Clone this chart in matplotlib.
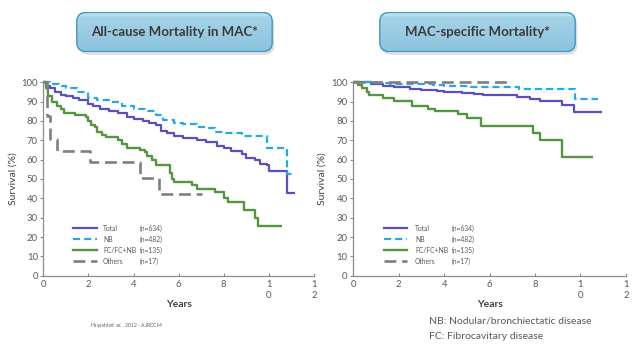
import numpy as np
import matplotlib.pyplot as plt
from matplotlib.patches import FancyBboxPatch
from matplotlib.lines import Line2D

plt.rcParams['font.family'] = ['Lato', 'DejaVu Sans']

# Kaplan-Meier change points (years, survival %)
all_total_t = [0, 0.15, 0.3, 0.5, 0.8, 1.0, 1.3, 1.6, 2.0, 2.2, 2.5, 2.9, 3.3, 3.7, 4.0, 4.4,
               4.7, 5.0, 5.2, 5.5, 5.8, 6.2, 6.8, 7.2, 7.7, 8.0, 8.3, 8.8, 9.0, 9.4, 9.6, 9.9,
               10.0, 10.8, 11.15]
all_total_s = [100, 98, 97, 95, 93.5, 93, 92, 91, 89, 88, 86, 85, 84, 82, 81, 80,
               79, 78, 75, 74, 72, 71, 70, 69, 67, 66, 64.5, 63, 61, 60, 58, 57,
               54, 43, 43]
all_nb_t = [0, 0.3, 0.7, 1.0, 1.5, 2.0, 2.4, 3.0, 3.5, 4.0, 4.5, 5.0, 5.3, 5.8, 6.2, 6.8,
            7.3, 7.6, 8.0, 8.8, 9.9, 10.8, 11.1]
all_nb_s = [100, 99, 98, 97, 95, 92, 91, 90, 88, 86, 85, 83, 80.5, 79, 78.5, 77,
            76.5, 74.5, 74, 72, 66, 52.5, 52.5]
all_fc_t = [0, 0.1, 0.2, 0.4, 0.6, 0.8, 0.9, 1.4, 1.9, 2.0, 2.1, 2.3, 2.4, 2.6, 2.8, 3.3,
            3.5, 3.7, 4.3, 4.5, 4.6, 4.8, 5.0, 5.6, 5.7, 5.8, 6.6, 6.8, 7.6, 8.0, 8.2, 8.9,
            9.4, 9.5, 10.6]
all_fc_s = [100, 97, 93, 90, 88, 86, 84, 83, 82, 80, 78, 77, 74.5, 73, 71.5, 70,
            68, 66, 65, 64, 62, 60, 57, 53, 50, 48.5, 47, 45, 43.5, 40, 38, 34,
            30, 25.5, 25.5]
all_oth_t = [0, 0.15, 0.3, 0.62, 2.05, 4.28, 5.13, 7.03]
all_oth_s = [100, 82.4, 70.6, 64.7, 58.8, 50.4, 42.0, 42.0]

mac_total_t = [0, 0.8, 1.3, 1.8, 2.5, 3.0, 3.7, 4.0, 4.8, 5.3, 5.7, 7.2, 7.8, 8.2, 9.2, 9.7, 10.95]
mac_total_s = [100, 99, 98, 97.5, 96.5, 96, 95.5, 95, 94.5, 94, 93.5, 92.5, 91.5, 90.2, 88.3, 84.7, 84.7]
mac_nb_t = [0, 1.0, 1.6, 3.5, 4.0, 5.2, 7.3, 9.75, 10.75]
mac_nb_s = [100, 99.5, 99, 98.8, 98, 97.4, 96.6, 91.3, 91.3]
mac_fc_t = [0, 0.2, 0.4, 0.6, 0.7, 1.3, 1.8, 2.6, 3.3, 3.6, 4.6, 5.0, 5.6, 7.9, 8.2, 9.2, 10.55]
mac_fc_s = [100, 98.5, 97, 95, 93.3, 92, 90.2, 87.6, 86.3, 85, 83.4, 81.7, 77.6, 73.8, 70.2, 61.2, 61.2]
mac_oth_t = [0, 7.0]
mac_oth_s = [100, 100]

groups = ['Total', 'NB', 'FC/FC+NB', 'Others']
counts = ['(n=634)', '(n=482)', '(n=135)', '(n=17)']
xticks = [0, 2, 4, 6, 8, 10, 12]
xticklabels = ['0', '2', '4', '6', '8', '1\n0', '1\n2']
yticks = list(range(0, 101, 10))

titles = ['All-cause Mortality in MAC*', 'MAC-specific Mortality*']

styles = [
    dict(color='#5b4fbd', lw=1.6, ls='-'),
    dict(color='#25a9e6', lw=1.6, ls=(0, (3.2, 1.8))),
    dict(color='#54963f', lw=1.7, ls='-'),
    dict(color='#7f7f7f', lw=1.9, ls=(0, (4.5, 2.2))),
]

grey = '#595959'
axis_col = '#8c8c8c'

fig = plt.figure(figsize=(6.4, 3.48), dpi=100)


def draw_panel(rect, series, legend_x):
    ax = fig.add_axes(rect)
    for (t, s), st in zip(series, styles):
        ax.step(t, s, where='post', clip_on=False, solid_capstyle='butt',
                dash_capstyle='butt', **st)
    ax.set_xlim(0, 12)
    ax.set_ylim(0, 100)
    ax.set_xticks(xticks)
    ax.set_xticklabels(xticklabels, linespacing=1.25)
    ax.set_yticks(yticks)
    ax.tick_params(axis='both', labelsize=6.8, colors=axis_col, labelcolor=grey,
                   length=2.5, width=0.8)
    ax.tick_params(axis='x', direction='in', pad=3)
    ax.tick_params(axis='y', pad=1.5)
    for side in ['top', 'right']:
        ax.spines[side].set_visible(False)
    for side in ['left', 'bottom']:
        ax.spines[side].set_color(axis_col)
        ax.spines[side].set_linewidth(0.9)
    ax.set_ylabel('Survival (%)', fontsize=7.5, color='#404040', labelpad=3)
    ax.set_xlabel('Years', fontsize=7.5, color='#404040', fontweight='bold', labelpad=0)

    # legend drawn in axes fraction
    lx0, lx1, lab_x, n_x = legend_x
    for i, (name, n, st) in enumerate(zip(groups, counts, styles)):
        y = 0.245 - i * 0.057
        ax.add_line(Line2D([lx0, lx1], [y, y], transform=ax.transAxes, **st))
        ax.text(lab_x, y, name, transform=ax.transAxes, fontsize=4.9, color=grey,
                va='center', ha='left')
        ax.text(n_x, y, n, transform=ax.transAxes, fontsize=4.9, color=grey,
                va='center', ha='left')
    return ax


def title_box(x0, y0, w, h, text):
    W, H = 640, 348
    # soft drop shadow behind the box
    sax = fig.add_axes([(x0 + 2) / W, 1 - (y0 + h + 3) / H, w / W, h / H])
    sax.set_zorder(1)
    sax.set_xlim(0, 1)
    sax.set_ylim(0, 1)
    sax.axis('off')
    sax.add_patch(FancyBboxPatch((0.004, 0.01), 0.992, 0.98,
                                 boxstyle='round,pad=0,rounding_size=0.05',
                                 mutation_aspect=w / h * 0.9,
                                 fc='#bfbfbf', ec='none', alpha=0.55))

    bax = fig.add_axes([x0 / W, 1 - (y0 + h) / H, w / W, h / H])
    bax.set_zorder(2)
    bax.set_xlim(0, 1)
    bax.set_ylim(0, 1)
    bax.axis('off')
    box = FancyBboxPatch((0.004, 0.01), 0.992, 0.98,
                         boxstyle='round,pad=0,rounding_size=0.05',
                         mutation_aspect=w / h * 0.9,
                         fc='none', ec='#3e97c9', lw=1.0, transform=bax.transData)
    grad = np.linspace(0, 1, 64)[:, None, None]
    top = np.array([0.66, 0.84, 0.91])
    bot = np.array([0.55, 0.76, 0.87])
    img = top * (1 - grad) + bot * grad
    img[:7] = np.array([0.71, 0.88, 0.93])
    im = bax.imshow(img, extent=[0, 1, 0, 1], aspect='auto', origin='upper')
    im.set_clip_path(box)
    bax.add_patch(box)
    bax.text(0.5, 0.5, text, ha='center', va='center', fontsize=9.5,
             fontweight='bold', color='#3a3a3a')


draw_panel([0.0677, 0.2078, 0.423, 0.5557],
           [(all_total_t, all_total_s), (all_nb_t, all_nb_s),
            (all_fc_t, all_fc_s), (all_oth_t, all_oth_s)],
           (0.109, 0.197, 0.22, 0.358))
draw_panel([0.552, 0.2078, 0.426, 0.5557],
           [(mac_total_t, mac_total_s), (mac_nb_t, mac_nb_s),
            (mac_fc_t, mac_fc_s), (mac_oth_t, mac_oth_s)],
           (0.113, 0.196, 0.226, 0.36))

title_box(76, 12, 197, 40, titles[0])
title_box(379, 12, 197, 40, titles[1])

fig.text(90 / 640, 1 - 325 / 348, r'Hayashi $\it{et\ al.}$, 2012 - AJRCCM',
         fontsize=3.6, color=grey, va='center')
fig.text(429 / 640, 1 - 321.5 / 348, 'NB: Nodular/bronchiectatic disease',
         fontsize=7.5, color=grey, va='center')
fig.text(429 / 640, 1 - 336.5 / 348, 'FC: Fibrocavitary disease',
         fontsize=7.5, color=grey, va='center')

fig.savefig('out.png', dpi=100, facecolor='white')
